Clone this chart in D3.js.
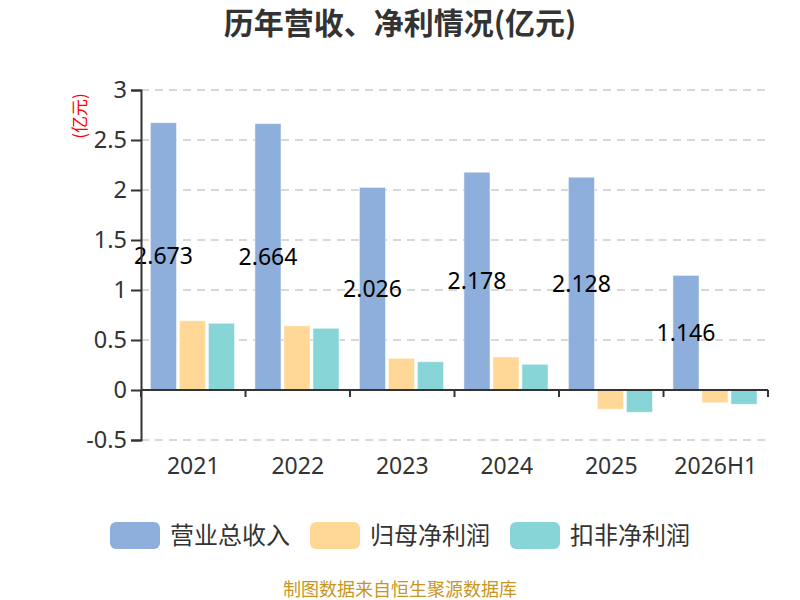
<!DOCTYPE html>
<html>
<head>
<meta charset="utf-8">
<script src="https://cdn.jsdelivr.net/npm/d3@7/dist/d3.min.js"></script>
<style>
  body { margin: 0; background: #fff; }
  svg { font-family: "Noto Sans CJK SC", "Noto Sans", sans-serif; }
</style>
</head>
<body>
<div id="chart"></div>
<script>
const years = ["2021", "2022", "2023", "2024", "2025", "2026H1"];
const revenue = [2.673, 2.664, 2.026, 2.178, 2.128, 1.146];
const netProfit = [0.693, 0.643, 0.317, 0.33, -0.193, -0.127];
const deductedProfit = [0.667, 0.617, 0.283, 0.257, -0.223, -0.143];
const seriesNames = ["营业总收入", "归母净利润", "扣非净利润"];
const yTicks = [-0.5, 0, 0.5, 1, 1.5, 2, 2.5, 3];

const W = 800, H = 600;
const margin = { top: 90, right: 32, bottom: 160, left: 141 };
const width = W - margin.left - margin.right,
    height = H - margin.top - margin.bottom;

const colors = ["#8eaedb", "#ffd898", "#88d5d8"];

const svg = d3.select("#chart")
    .append("svg")
    .attr("width", W)
    .attr("height", H);

// title
svg.append("text")
    .attr("x", W / 2)
    .attr("y", 34)
    .attr("text-anchor", "middle")
    .attr("font-size", 30)
    .attr("font-weight", "bold")
    .attr("fill", "#333")
    .text("历年营收、净利情况(亿元)");

const g = svg.append("g")
    .attr("transform", `translate(${margin.left},${margin.top})`);

const x = d3.scaleBand()
    .domain(years)
    .range([0, width]);

const y = d3.scaleLinear()
    .domain([-0.5, 3])
    .range([height, 0]);

// grid lines
g.append("g")
    .selectAll("line")
    .data(yTicks.filter(d => d !== 0))
    .join("line")
    .attr("x1", 0)
    .attr("x2", width)
    .attr("y1", d => y(d))
    .attr("y2", d => y(d))
    .attr("stroke", "#ccc")
    .attr("stroke-dasharray", "8,6")
    .attr("stroke-width", 1.5);

// bars
const table = years.map((yr, i) => ({
    year: yr,
    values: [revenue[i], netProfit[i], deductedProfit[i]]
}));

const xSub = d3.scaleBand()
    .domain([0, 1, 2])
    .range([x.bandwidth() * 0.09, x.bandwidth() * 0.895])
    .paddingInner(0.1);

const groups = g.append("g")
    .selectAll("g")
    .data(table)
    .join("g")
    .attr("transform", d => `translate(${x(d.year)},0)`);

groups.selectAll("rect")
    .data(d => d.values.map((v, k) => ({ k, v })))
    .join("rect")
    .attr("x", d => xSub(d.k))
    .attr("width", xSub.bandwidth())
    .attr("y", d => Math.min(y(d.v), y(0)))
    .attr("height", d => Math.abs(y(d.v) - y(0)))
    .attr("fill", d => colors[d.k])
    .attr("stroke", "rgba(255,255,255,0.5)")
    .attr("stroke-width", 1);

// value labels on revenue bars
groups.append("text")
    .attr("x", d => xSub(0) + xSub.bandwidth() / 2)
    .attr("y", d => (y(d.values[0]) + y(0)) / 2)
    .attr("dy", "0.35em")
    .attr("text-anchor", "middle")
    .attr("font-size", 23)
    .attr("fill", "#000")
    .attr("font-family", "'Noto Sans', sans-serif")
    .text(d => d.values[0].toFixed(3));

// y axis
const yAxis = g.append("g")
    .call(d3.axisLeft(y).tickValues(yTicks).tickSize(10).tickPadding(4).tickFormat(d => d));
yAxis.select(".domain").attr("stroke", "#333").attr("stroke-width", 2);
yAxis.selectAll(".tick line").attr("stroke", "#333").attr("stroke-width", 2);
yAxis.selectAll(".tick text")
    .attr("font-size", 23.5)
    .attr("fill", "#333")
    .attr("font-family", "'Noto Sans', sans-serif");

// x axis along zero line
const xAxis = g.append("g")
    .attr("transform", `translate(0,${y(0)})`);
xAxis.append("line")
    .attr("x1", 0).attr("x2", width)
    .attr("stroke", "#333").attr("stroke-width", 2);
xAxis.selectAll("line.tk")
    .data(years.concat(["end"]))
    .join("line")
    .attr("class", "tk")
    .attr("x1", (d, i) => i * x.step())
    .attr("x2", (d, i) => i * x.step())
    .attr("y1", 0).attr("y2", 7)
    .attr("stroke", "#333").attr("stroke-width", 2);

g.append("g")
    .selectAll("text")
    .data(years)
    .join("text")
    .attr("x", d => x(d) + x.bandwidth() / 2)
    .attr("y", height + 34)
    .attr("text-anchor", "middle")
    .attr("font-size", 23)
    .attr("fill", "#333")
    .attr("font-family", "'Noto Sans', sans-serif")
    .text(d => d);

// y axis unit
svg.append("text")
    .attr("transform", "translate(80,116) rotate(-90)")
    .attr("text-anchor", "middle")
    .attr("dy", "0.35em")
    .attr("font-size", 17)
    .attr("fill", "red")
    .text("(亿元)");

// legend
const legendX = [110, 310, 510];
const legend = svg.append("g")
    .selectAll("g")
    .data(seriesNames)
    .join("g")
    .attr("transform", (d, i) => `translate(${legendX[i]},522)`);
legend.append("rect")
    .attr("width", 50)
    .attr("height", 27)
    .attr("rx", 6)
    .attr("fill", (d, i) => colors[i]);
legend.append("text")
    .attr("x", 60)
    .attr("y", 13)
    .attr("dy", "0.36em")
    .attr("font-size", 24)
    .attr("fill", "#333")
    .text(d => d);

// source
svg.append("text")
    .attr("x", W / 2)
    .attr("y", 590)
    .attr("dy", "0.35em")
    .attr("text-anchor", "middle")
    .attr("font-size", 18)
    .attr("fill", "#c8961e")
    .text("制图数据来自恒生聚源数据库");
</script>
</body>
</html>
